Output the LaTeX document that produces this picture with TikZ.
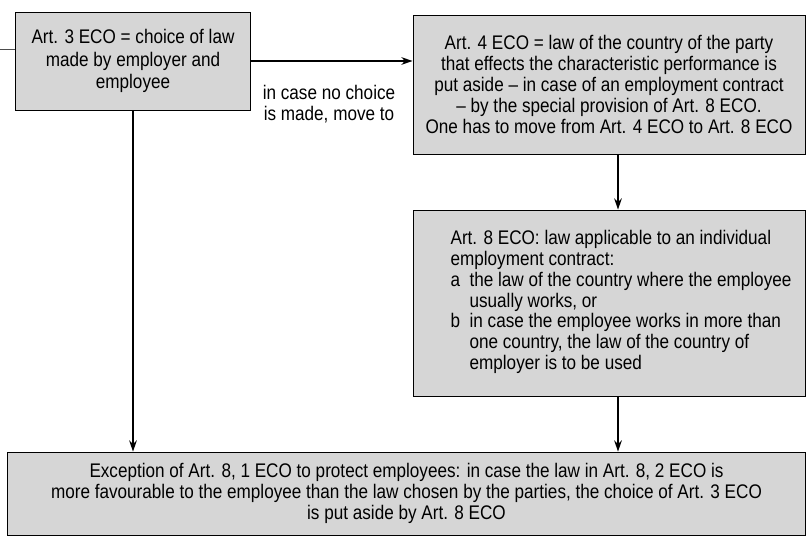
\documentclass[tikz,border=0pt]{standalone}
\usepackage{fontspec}
\setmainfont{Liberation Sans}[FakeStretch=0.87]
\usetikzlibrary{arrows.meta, positioning}

\begin{document}
\begin{tikzpicture}[x=0.025cm, y=-0.025cm,
    box/.style={draw, line width=0.6pt, fill=black!16, align=center, inner sep=0pt,
        font=\fontsize{14}{14.8}\selectfont},
    link/.style={line width=1.1pt, -{Stealth[length=8pt, width=5.5pt]}}]
    \useasboundingbox (0,0) rectangle (807,543);

    % Define the points
    \coordinate (in) at (0,49);
    \coordinate (mid) at (618,0);

    % Place the boxes
    \node[box, minimum width=5.875cm, minimum height=2.45cm] (A) at (133,61)
        {Art. 3 ECO = choice of law\\[1pt]made by employer and\\[1pt]employee};
    \node[box, minimum width=9.8cm, minimum height=3.475cm] (B) at (609,84.5)
        {Art. 4 ECO = law of the country of the party\\
         that effects the characteristic performance is\\
         put aside – in case of an employment contract\\
         – by the special provision of Art. 8 ECO.\\
         One has to move from Art. 4 ECO to Art. 8 ECO};
    \node[box, minimum width=9.8cm, minimum height=4.65cm] (C) at (609,303)
        {\begin{tabular}{@{\hspace{0.6cm}}l@{}}
         Art. 8 ECO: law applicable to an individual\\
         employment contract:\\
         \makebox[0.475cm][l]{a}the law of the country where the employee\\
         \hspace*{0.475cm}usually works, or\\
         \makebox[0.475cm][l]{b}in case the employee works in more than\\
         \hspace*{0.475cm}one country, the law of the country of\\
         \hspace*{0.475cm}employer is to be used
         \end{tabular}};
    \node[box, minimum width=19.925cm, minimum height=2.075cm] (D) at (406.5,493.5)
        {Exception of Art. 8, 1 ECO to protect employees: in case the law in Art. 8, 2 ECO is\\
         more favourable to the employee than the law chosen by the parties, the choice of Art. 3 ECO\\
         is put aside by Art. 8 ECO};
    \node[font=\fontsize{14}{14.8}\selectfont, align=center, inner sep=0pt] (note) at (329,104)
        {in case no choice\\is made, move to};

    % Draw the connections
    \draw[black!70, line width=0.6pt] (in) -- (in -| A.west);
    \draw[link] (A.east) -- (A.east -| B.west);
    \draw[link] (A.south) -- (A.south |- D.north);
    \draw[link] (B.south -| mid) -- (C.north -| mid);
    \draw[link] (C.south -| mid) -- (D.north -| mid);

\end{tikzpicture}
\end{document}
